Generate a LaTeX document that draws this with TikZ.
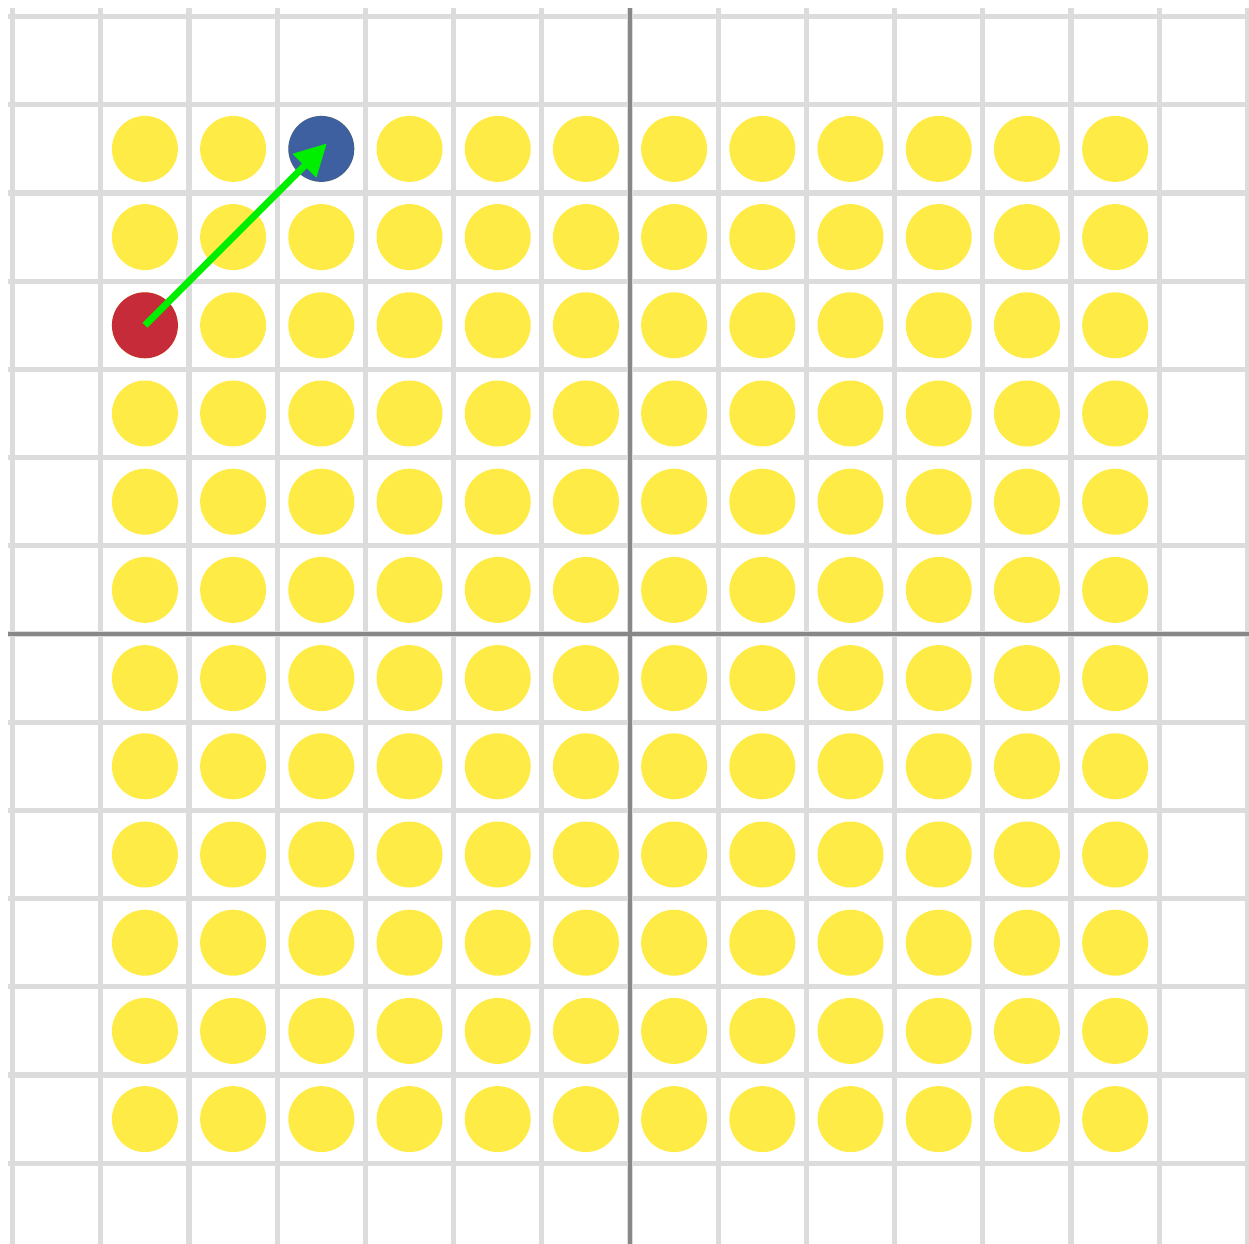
\documentclass[tikz,border=0pt]{standalone}
\usetikzlibrary{arrows.meta}
\definecolor{gridgray}{HTML}{DCDCDC}
\definecolor{axisgray}{HTML}{888888}
\definecolor{dotyellow}{HTML}{FFEB45}
\definecolor{dotred}{HTML}{C62B3A}
\definecolor{dotblue}{HTML}{3E60A0}
\definecolor{arrowgreen}{HTML}{00EE00}
\tikzset{
  gridline/.style={draw=gridgray, line width=1.7pt},
  axisline/.style={draw=axisgray, line width=1.3pt},
  dot/.style={circle, inner sep=0pt, minimum size=0.748cm, fill=dotyellow},
  startdot/.style={dot, fill=dotred},
  enddot/.style={dot, fill=dotblue},
  movearrow/.style={draw=arrowgreen, line width=2.2pt, -{Triangle[length=0.36cm,width=0.36cm]}, shorten >=-0.09cm}
}
\begin{document}
\begin{tikzpicture}
\useasboundingbox (-7.143,-6.905) rectangle (7.018,7.188);
\clip (-7.143,-6.905) rectangle (7.018,7.188);
\foreach \x in {-7,...,7} \draw[gridline] (\x,-7.2) -- (\x,7.098);
\foreach \y in {-6,...,7} \draw[gridline] (-7.05,\y) -- (7.2,\y);
\draw[axisline] (-7.05,0) -- (7.2,0);
\draw[axisline] (0,-7.2) -- (0,7.098);
\foreach \i in {0,...,11} {
  \foreach \j in {0,...,11} {
    \node[dot] (c-\i-\j) at (-5.5+\i,5.5-\j) {};
  }
}
\node[startdot] (red) at (-5.5,3.5) {};
\node[enddot] (blue) at (-3.5,5.5) {};
\draw[movearrow] (red.center) -- (blue.center);
\end{tikzpicture}
\end{document}
